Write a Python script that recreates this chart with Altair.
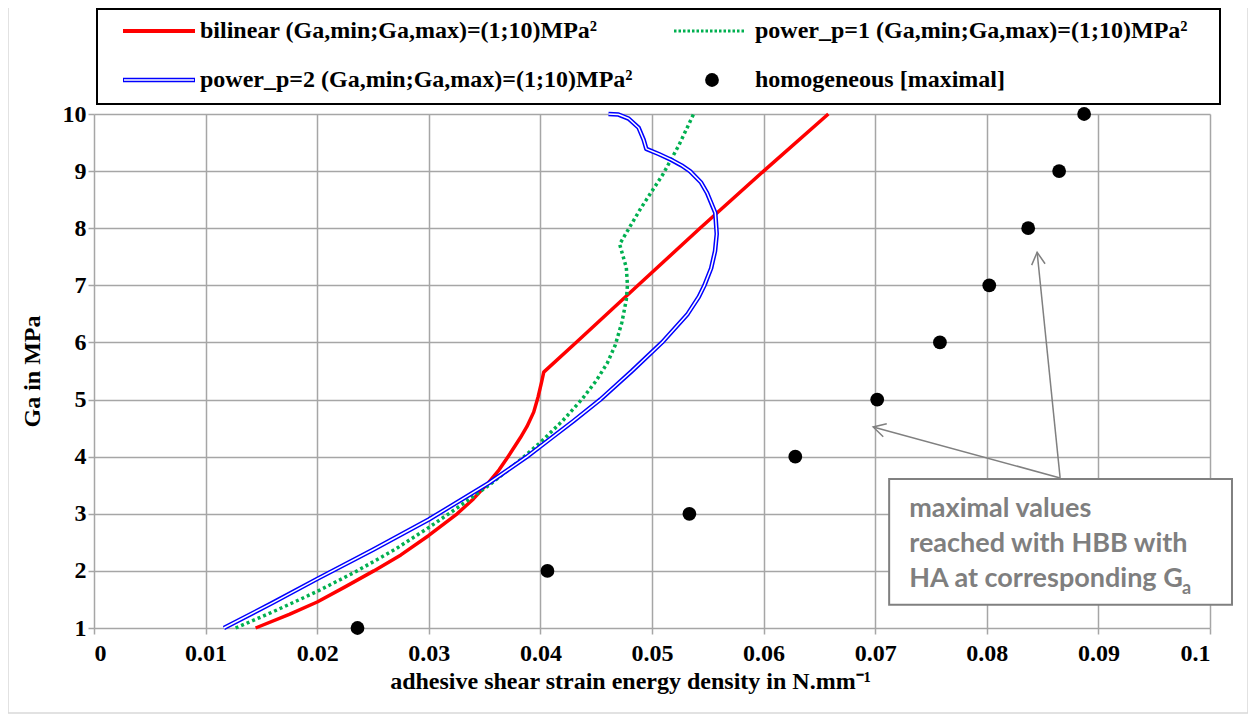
import math
import altair as alt
import pandas as pd

# ---------------- data ----------------
bilinear_x = [0.01448, 0.0175, 0.0200, 0.0225, 0.02507, 0.0275, 0.0300, 0.03254, 0.0340,
              0.03537, 0.0363, 0.0371, 0.0382, 0.0388, 0.0394, 0.0398, 0.0401, 0.0403,
              0.0432, 0.04875, 0.0543, 0.0600, 0.0658]
bilinear_ga = [1.0, 1.24, 1.455, 1.72, 2.0, 2.28, 2.62, 3.0, 3.26,
               3.55, 3.77, 4.0, 4.33, 4.53, 4.78, 5.05, 5.3, 5.48,
               6.0, 7.0, 8.0, 9.0, 10.0]

power1_x = [0.01269, 0.0160, 0.0200, 0.02358, 0.0270, 0.0300, 0.03194, 0.0354, 0.0380,
            0.0400, 0.0420, 0.0437, 0.0450, 0.0460, 0.0467, 0.0473, 0.0477, 0.0478,
            0.0477, 0.0471, 0.0490, 0.0510, 0.0524, 0.05373]
power1_ga = [1.0, 1.28, 1.64, 2.0, 2.38, 2.76, 3.02, 3.5, 3.91,
             4.25, 4.63, 5.0, 5.33, 5.64, 5.95, 6.35, 6.75, 7.0,
             7.31, 7.72, 8.35, 8.95, 9.45, 10.0]

power2_x = [0.01164, 0.0160, 0.0200, 0.0250, 0.0300, 0.0354, 0.0388, 0.0410, 0.0430,
            0.04537, 0.0482, 0.0509, 0.0532, 0.0542, 0.0547, 0.0553, 0.05565, 0.0558,
            0.05567, 0.05493, 0.0544, 0.0534, 0.05265, 0.0517, 0.0506, 0.04949, 0.04925,
            0.0488, 0.0479, 0.0470, 0.0461]
power2_ga = [1.0, 1.44, 1.86, 2.37, 2.90, 3.54, 4.0, 4.33, 4.63,
             5.0, 5.5, 6.0, 6.5, 6.8, 7.0, 7.3, 7.6, 7.9,
             8.27, 8.62, 8.8, 9.0, 9.1, 9.2, 9.3, 9.39, 9.55,
             9.76, 9.92, 9.99, 10.0]

homog_x = [0.02361, 0.04063, 0.05335, 0.06284, 0.07018, 0.0758, 0.08022, 0.08371, 0.08648, 0.08872]
homog_ga = [1, 2, 3, 4, 5, 6, 7, 8, 9, 10]

x_ticks = [0, 0.01, 0.02, 0.03, 0.04, 0.05, 0.06, 0.07, 0.08, 0.09, 0.1]
y_ticks = [1, 2, 3, 4, 5, 6, 7, 8, 9, 10]

legend_labels = ["bilinear (Ga,min;Ga,max)=(1;10)MPa²",
                 "power_p=1 (Ga,min;Ga,max)=(1;10)MPa²",
                 "power_p=2 (Ga,min;Ga,max)=(1;10)MPa²",
                 "homogeneous [maximal]"]

note_lines = ["maximal values", "reached with HBB with", "HA at corresponding G"]
note_sub = "a"
x_title = "adhesive shear strain energy density in N.mm⁻¹"
y_title = "Ga in MPa"

# annotation geometry (data units)
note_box = dict(x=0.07125, x2=0.10197, y=3.61, y2=1.407)
note_text_x = 0.07305
note_text_y = [2.946, 2.334, 1.722]
note_sub_pos = (0.0975, 1.60)
arrow_start = (0.08657, 3.628)
arrow_tips = [(0.08451, 7.579), (0.06982, 4.519)]

# ---------------- layout ----------------
W, H = 1116, 514
XMIN, XMAX = 0.0, 0.1
YMIN, YMAX = 1, 10
SERIF = "Liberation Serif"
GRID = "#a6a6a6"
NOTE = "#7f7f7f"

xs = alt.Scale(domain=[XMIN, XMAX], nice=False, zero=False)
ys = alt.Scale(domain=[YMIN, YMAX], nice=False, zero=False)

def X(field="x", **kw):
    return alt.X(f"{field}:Q", scale=xs, **kw)

def Y(field="y", **kw):
    return alt.Y(f"{field}:Q", scale=ys, **kw)

def curve(xv, yv):
    return pd.DataFrame({"x": xv, "y": yv, "i": range(len(xv))})

base_x = X(axis=alt.Axis(values=x_ticks, format="~g", title=x_title, grid=True,
                         titleX=536, titleY=60, titleBaseline="alphabetic", titleAlign="center",
                         labelPadding=7))
base_y = Y(axis=alt.Axis(values=y_ticks, format="d", title=y_title, grid=True,
                         titleX=-62, titleY=H / 2, titleAngle=270, titleAlign="center",
                         titleBaseline="middle", labelPadding=2))

one = pd.DataFrame({"k": [0]})

# outer chart border (decoration)
outer = alt.Chart(one).mark_rect(fillOpacity=0, stroke="#d9d9d9", strokeWidth=1.5).encode(
    x=alt.value(-86), x2=alt.value(W + 38), y=alt.value(-120), y2=alt.value(H + 85))

# annotation box, arrows
box_df = pd.DataFrame([note_box])
box = alt.Chart(box_df).mark_rect(fill="white", stroke="#808080", strokeWidth=2).encode(
    x=X("x"), x2="x2:Q", y=Y("y"), y2="y2:Q")

arrow_df = pd.DataFrame({"x": [arrow_start[0]] * 2, "y": [arrow_start[1]] * 2,
                         "x2": [t[0] for t in arrow_tips], "y2": [t[1] for t in arrow_tips]})
arrows = alt.Chart(arrow_df).mark_rule(color="#808080", strokeWidth=1.5).encode(
    x=X("x"), x2="x2:Q", y=Y("y"), y2="y2:Q")

heads = []
for tx, ty in arrow_tips:
    pdx = (tx - arrow_start[0]) / (XMAX - XMIN) * W
    pdy = -(ty - arrow_start[1]) / (YMAX - YMIN) * H
    ang = math.degrees(math.atan2(pdx, -pdy)) % 360
    hd = pd.DataFrame({"x": [tx], "y": [ty]})
    heads.append(alt.Chart(hd).mark_point(shape="M -0.55 1 L 0 0 L 0.55 1", filled=False,
                                          stroke="#808080", strokeWidth=1.5, size=600,
                                          angle=ang, opacity=1).encode(x=X("x"), y=Y("y")))

note_df = pd.DataFrame({"x": [note_text_x] * 3, "y": note_text_y, "t": note_lines})
note = alt.Chart(note_df).mark_text(align="left", baseline="alphabetic", font="Lato",
                                    fontWeight="bold", fontSize=27, color=NOTE).encode(
    x=X("x"), y=Y("y"), text="t:N")
sub_df = pd.DataFrame({"x": [note_sub_pos[0]], "y": [note_sub_pos[1]], "t": [note_sub]})
sub = alt.Chart(sub_df).mark_text(align="left", baseline="alphabetic", font="Lato",
                                  fontWeight="bold", fontSize=18, color=NOTE).encode(
    x=X("x"), y=Y("y"), text="t:N")

# data curves
red = alt.Chart(curve(bilinear_x, bilinear_ga)).mark_line(
    color="#ff0000", strokeWidth=3.5, strokeJoin="round").encode(
    x=base_x, y=base_y, order="i:Q")
green = alt.Chart(curve(power1_x, power1_ga)).mark_line(
    color="#00b050", strokeWidth=3.5, strokeDash=[3, 3]).encode(
    x=X(), y=Y(), order="i:Q")
blue_outer = alt.Chart(curve(power2_x, power2_ga)).mark_line(
    color="#0000ff", strokeWidth=4.5, strokeJoin="round").encode(x=X(), y=Y(), order="i:Q")
blue_inner = alt.Chart(curve(power2_x, power2_ga)).mark_line(
    color="white", strokeWidth=1.5, strokeJoin="round").encode(x=X(), y=Y(), order="i:Q")
pts = alt.Chart(pd.DataFrame({"x": homog_x, "y": homog_ga})).mark_circle(
    size=190, color="black", opacity=1).encode(x=X(), y=Y())

# legend (decoration, pixel positions relative to plot area)
R1, R2 = -83, -34
C1S, C1E, C1T = 29, 101, 106
C2S, C2E, C2T = 580, 651, 661
leg = [
    alt.Chart(one).mark_rect(fill="white", stroke="black", strokeWidth=2).encode(
        x=alt.value(3), x2=alt.value(1126), y=alt.value(-105), y2=alt.value(-10)),
    alt.Chart(one).mark_rule(color="#ff0000", strokeWidth=4).encode(
        x=alt.value(C1S), x2=alt.value(C1E), y=alt.value(R1)),
    alt.Chart(one).mark_rule(color="#00b050", strokeWidth=3, strokeDash=[2.5, 2]).encode(
        x=alt.value(C2S), x2=alt.value(C2E), y=alt.value(R1)),
    alt.Chart(one).mark_rule(color="#0000ff", strokeWidth=4.5).encode(
        x=alt.value(C1S), x2=alt.value(C1E), y=alt.value(R2)),
    alt.Chart(one).mark_rule(color="white", strokeWidth=1.5).encode(
        x=alt.value(C1S + 1), x2=alt.value(C1E - 1), y=alt.value(R2)),
    alt.Chart(one).mark_circle(size=190, color="black", opacity=1).encode(
        x=alt.value(618), y=alt.value(R2)),
]
for (cx, cy), lab in zip([(C1T, R1), (C2T, R1), (C1T, R2), (C2T, R2)], legend_labels):
    leg.append(alt.Chart(one).mark_text(text=lab, align="left", baseline="middle", font=SERIF,
                                        fontWeight="bold", fontSize=24, color="black").encode(
        x=alt.value(cx), y=alt.value(cy)))

chart = alt.layer(red, outer, box, arrows, *heads, note, sub, green, blue_outer, blue_inner,
                  pts, *leg).properties(
    width=W, height=H,
    padding={"left": 86, "top": 106, "right": 38, "bottom": 86},
    autosize=alt.AutoSizeParams(type="none"),
    background="white",
).configure_view(stroke="transparent").configure_axis(
    gridColor=GRID, gridWidth=1.5, tickColor=GRID, tickWidth=1.5, tickSize=6, domain=False,
    labelFont=SERIF, labelFontSize=24, labelFontWeight="bold", labelColor="black",
    titleFont=SERIF, titleFontSize=24, titleFontWeight="bold", titleColor="black",
)

chart.save("out.html", embed_options={"renderer": "svg", "actions": False})
